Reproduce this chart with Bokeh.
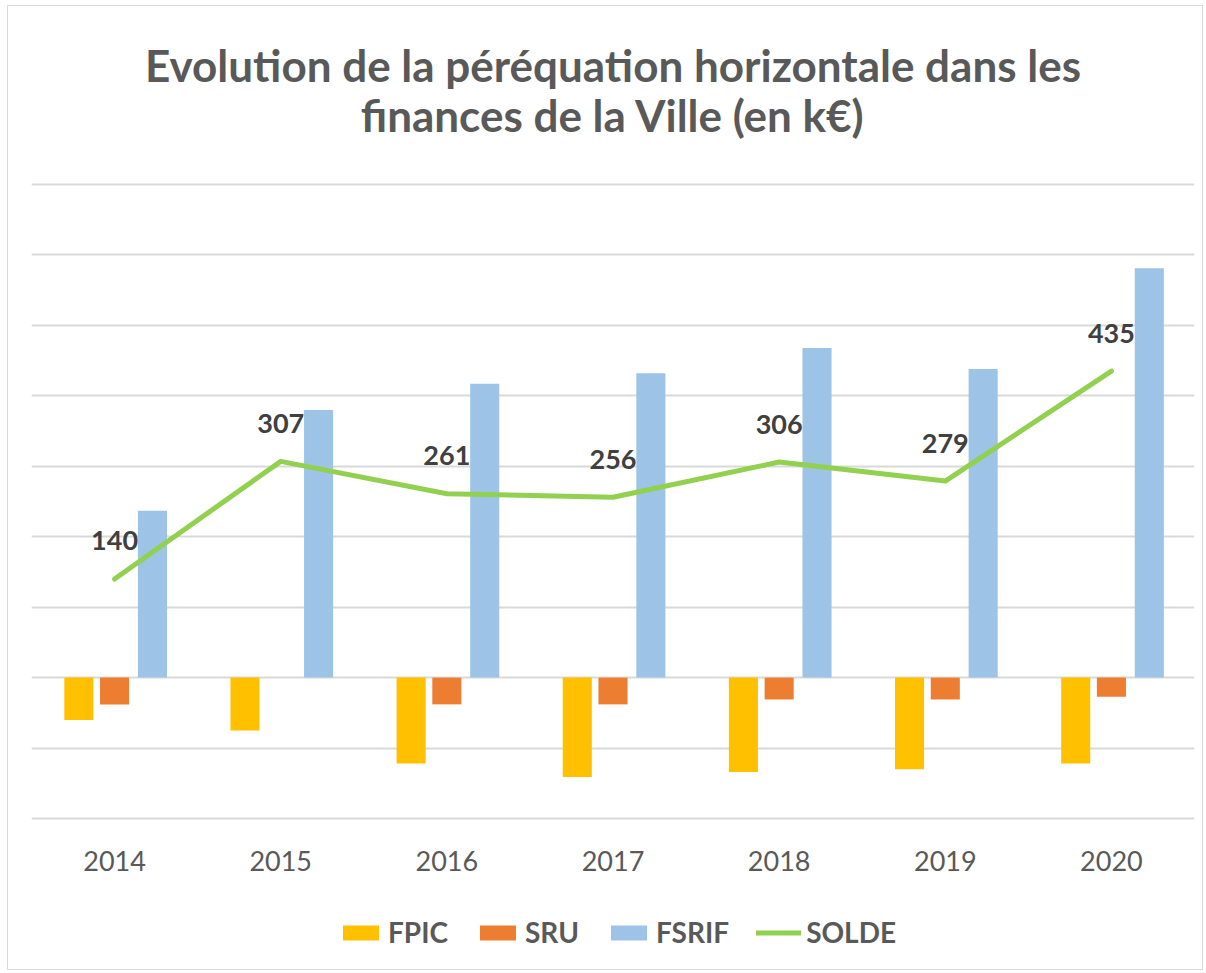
from bokeh.plotting import figure
from bokeh.models import (ColumnDataSource, FactorRange, Range1d, FixedTicker,
                          Legend, LegendItem, Label)
from bokeh.transform import dodge
from bokeh.core.properties import value
from bokeh.embed import file_html
from bokeh.resources import INLINE

# ---- data (k€) ----
years = ["2014", "2015", "2016", "2017", "2018", "2019", "2020"]
fpic = [-60, -75, -122, -141, -134, -130, -122]
sru = [-38, 0, -38, -38, -31, -31, -27]
fsrif = [237, 380, 417, 432, 468, 438, 581]
solde = [140, 307, 261, 256, 306, 279, 435]
solde_labels = [str(v) for v in solde]
grid_ticks = [-200, -100, 0, 100, 200, 300, 400, 500, 600, 700]
series_names = ["FPIC", "SRU", "FSRIF", "SOLDE"]

title_line1 = "Evolution de la péréquation horizontale dans les"
title_line2 = "finances de la Ville (en k€)"

C_FPIC = "#FFC000"
C_SRU = "#ED7D31"
C_FSRIF = "#9DC3E6"
C_SOLDE = "#92D050"
C_TEXT = "#595959"
C_LABEL = "#404040"
FONT = "Lato"

# ---- layout (pixels) ----
W, H = 1196, 965
LEFT, RIGHT = 23, 10
FW = W - LEFT - RIGHT
Y_MIN, Y_MAX = grid_ticks[0], grid_ticks[-1]
PLOT_TOP, PLOT_BOTTOM = 178, 812            # pixel rows of Y_MAX / Y_MIN
k = (PLOT_BOTTOM - PLOT_TOP) / (Y_MAX - Y_MIN)  # px per k€
y_top = Y_MAX + PLOT_TOP / k
y_bot = Y_MIN - (H - PLOT_BOTTOM) / k
year_label_y = Y_MIN - (854 - PLOT_BOTTOM) / k

src = ColumnDataSource(dict(years=years, fpic=fpic, sru=sru, fsrif=fsrif,
                            solde=solde, lbl=solde_labels,
                            ylab=[year_label_y] * len(years)))

p = figure(x_range=FactorRange(factors=years, range_padding=0),
           y_range=Range1d(y_bot, y_top),
           width=W, height=H,
           output_backend="svg", toolbar_location=None,
           min_border_left=LEFT, min_border_right=RIGHT,
           min_border_top=0, min_border_bottom=0)
p.title = None
p.axis.visible = False

bw = 0.175
r1 = p.vbar(x=dodge("years", -0.215, range=p.x_range), top="fpic", bottom=0,
            width=bw, source=src, fill_color=C_FPIC, line_color=None)
r2 = p.vbar(x=dodge("years", 0.0, range=p.x_range), top="sru", bottom=0,
            width=bw, source=src, fill_color=C_SRU, line_color=None)
r3 = p.vbar(x=dodge("years", 0.228, range=p.x_range), top="fsrif", bottom=0,
            width=bw, source=src, fill_color=C_FSRIF, line_color=None)
r4 = p.line(x="years", y="solde", source=src, line_color=C_SOLDE,
            line_width=5, line_join="round", line_cap="round")

# data labels of SOLDE
p.text(x="years", y="solde", text="lbl", source=src,
       text_font=value(FONT), text_font_style="bold", text_font_size="27px",
       text_color=C_LABEL, text_align="center", text_baseline="alphabetic",
       y_offset=-38)

# category labels
p.text(x="years", y="ylab", text="years", source=src,
       text_font=value(FONT), text_font_size="27px", text_color=C_TEXT,
       text_align="center", text_baseline="alphabetic")

# two-line title (screen px from frame bottom-left, y up)
for txt, yy in [(title_line1, H - 58), (title_line2, H - 108)]:
    p.add_layout(Label(x=FW / 2, y=yy, x_units="screen", y_units="screen",
                       text=txt, text_align="center",
                       text_baseline="alphabetic", text_font=FONT,
                       text_font_size="44px", text_font_style="bold",
                       text_color=C_TEXT))

# grid
p.xgrid.grid_line_color = None
p.ygrid.ticker = FixedTicker(ticks=grid_ticks)
p.ygrid.grid_line_color = "#D9D9D9"
p.ygrid.grid_line_width = 2
p.outline_line_color = None
p.background_fill_color = "white"
p.border_fill_color = "white"

legend = Legend(items=[LegendItem(label=n, renderers=[r])
                       for n, r in zip(series_names, [r1, r2, r3, r4])],
                orientation="horizontal", location=(307, 22),
                label_text_font=FONT, label_text_font_style="bold",
                label_text_font_size="28px", label_text_color=C_TEXT,
                glyph_width=45, glyph_height=19, label_standoff=5,
                spacing=27, border_line_color=None,
                background_fill_alpha=0, margin=0, padding=0)
p.add_layout(legend, "center")

p.styles = {"border": "1px solid #D9D9D9", "margin-left": "7px",
            "margin-top": "5px"}

open("out.html", "w").write(file_html(p, INLINE))
